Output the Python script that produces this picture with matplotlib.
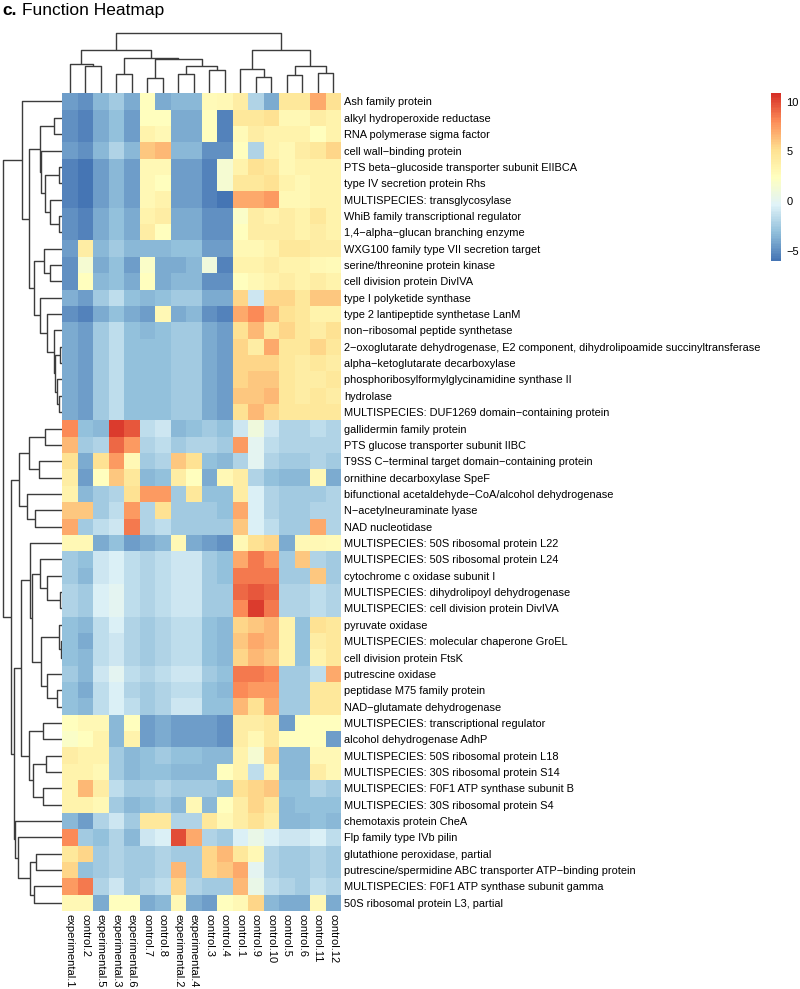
import matplotlib
matplotlib.use("Agg")
import matplotlib.pyplot as plt
import numpy as np
from matplotlib.colors import LinearSegmentedColormap

plt.rcParams['font.family'] = ['Liberation Sans', 'DejaVu Sans']

columns = ["experimental.1", "control.2", "experimental.5", "experimental.3",
           "experimental.6", "control.7", "control.8", "experimental.2",
           "experimental.4", "control.3", "control.4", "control.1", "control.9",
           "control.10", "control.5", "control.6", "control.11", "control.12"]

rows = [
    "Ash family protein",
    "alkyl hydroperoxide reductase",
    "RNA polymerase sigma factor",
    "cell wall−binding protein",
    "PTS beta−glucoside transporter subunit EIIBCA",
    "type IV secretion protein Rhs",
    "MULTISPECIES: transglycosylase",
    "WhiB family transcriptional regulator",
    "1,4−alpha−glucan branching enzyme",
    "WXG100 family type VII secretion target",
    "serine/threonine protein kinase",
    "cell division protein DivIVA",
    "type I polyketide synthase",
    "type 2 lantipeptide synthetase LanM",
    "non−ribosomal peptide synthetase",
    "2−oxoglutarate dehydrogenase, E2 component, dihydrolipoamide succinyltransferase",
    "alpha−ketoglutarate decarboxylase",
    "phosphoribosylformylglycinamidine synthase II",
    "hydrolase",
    "MULTISPECIES: DUF1269 domain−containing protein",
    "gallidermin family protein",
    "PTS glucose transporter subunit IIBC",
    "T9SS C−terminal target domain−containing protein",
    "ornithine decarboxylase SpeF",
    "bifunctional acetaldehyde−CoA/alcohol dehydrogenase",
    "N−acetylneuraminate lyase",
    "NAD nucleotidase",
    "MULTISPECIES: 50S ribosomal protein L22",
    "MULTISPECIES: 50S ribosomal protein L24",
    "cytochrome c oxidase subunit I",
    "MULTISPECIES: dihydrolipoyl dehydrogenase",
    "MULTISPECIES: cell division protein DivIVA",
    "pyruvate oxidase",
    "MULTISPECIES: molecular chaperone GroEL",
    "cell division protein FtsK",
    "putrescine oxidase",
    "peptidase M75 family protein",
    "NAD−glutamate dehydrogenase",
    "MULTISPECIES: transcriptional regulator",
    "alcohol dehydrogenase AdhP",
    "MULTISPECIES: 50S ribosomal protein L18",
    "MULTISPECIES: 30S ribosomal protein S14",
    "MULTISPECIES: F0F1 ATP synthase subunit B",
    "MULTISPECIES: 30S ribosomal protein S4",
    "chemotaxis protein CheA",
    "Flp family type IVb pilin",
    "glutathione peroxidase, partial",
    "putrescine/spermidine ABC transporter ATP−binding protein",
    "MULTISPECIES: F0F1 ATP synthase subunit gamma",
    "50S ribosomal protein L3, partial",
]

values = [
    [-4.5, -5.0, -3.5, -2.5, -4.0, 2.5, -4.0, -3.5, -3.5, 2.8, 3.0, 4.0, -2.0, -4.0, 4.5, 4.5, 7.0, 5.0],
    [-5.0, -5.5, -4.0, -3.0, -4.5, 2.5, 2.5, -4.0, -4.0, 2.5, -5.5, 4.5, 4.5, 5.0, 3.0, 3.0, 4.0, 3.5],
    [-5.0, -5.5, -4.0, -3.0, -4.5, 3.5, 3.0, -4.0, -4.0, 2.5, -5.5, 2.8, 4.0, 3.5, 3.5, 3.5, 2.5, 3.5],
    [-4.5, -5.0, -3.5, -2.0, -3.5, 6.0, 6.5, -3.5, -3.5, -5.0, -5.0, 2.5, -2.0, 3.5, 3.0, 4.0, 4.5, 5.5],
    [-5.5, -6.0, -4.5, -3.5, -4.5, 3.0, 3.0, -4.5, -4.5, -5.5, 1.5, 3.5, 5.0, 4.5, 3.0, 3.5, 3.5, 3.5],
    [-5.5, -6.0, -4.5, -3.5, -4.5, 3.0, 2.5, -4.5, -4.5, -5.5, 1.5, 4.5, 4.5, 5.0, 3.5, 3.0, 3.5, 3.5],
    [-5.5, -6.0, -4.5, -3.5, -4.5, 3.0, 3.5, -4.5, -4.5, -5.5, -6.0, 7.0, 7.0, 7.5, 3.0, 3.0, 3.5, 3.5],
    [-5.0, -5.5, -4.0, -3.0, -4.0, 3.5, 4.0, -4.0, -4.0, -5.0, -5.0, 2.0, 4.0, 3.5, 4.0, 3.5, 4.5, 3.5],
    [-5.0, -5.5, -4.0, -3.0, -4.0, 4.0, 2.5, -4.0, -4.0, -5.0, -5.0, 2.5, 4.0, 4.0, 4.0, 3.5, 4.0, 3.5],
    [-4.5, 4.0, -3.5, -2.5, -3.5, -3.5, -3.5, -3.0, -3.0, -4.5, -4.5, 3.0, 3.0, 3.5, 4.5, 4.5, 4.0, 4.0],
    [-5.0, 1.5, -4.0, -3.0, -4.5, 2.0, -4.0, -4.0, -3.5, 1.0, -5.5, 3.5, 3.5, 4.0, 3.5, 3.5, 3.0, 2.8],
    [-5.0, 2.5, -3.5, -3.0, -4.0, 2.5, -4.0, -3.5, -3.5, -5.0, -5.0, 2.5, 3.0, 3.5, 4.0, 3.5, 4.0, 3.5],
    [-3.8, -4.5, -2.5, -1.5, -3.0, -3.5, -3.0, -2.5, -2.5, -4.0, -4.0, 5.5, -1.0, 5.5, 5.5, 4.5, 6.0, 6.0],
    [-5.0, -5.5, -4.0, -3.0, -4.0, -4.5, 3.0, -4.0, -3.5, -5.0, -5.5, 7.0, 8.0, 6.5, 5.0, 4.5, 3.5, 3.5],
    [-4.0, -4.5, -2.5, -1.5, -3.0, -3.5, -3.0, -2.5, -2.5, -4.0, -4.5, 5.0, 6.5, 4.5, 5.5, 4.5, 4.0, 5.0],
    [-4.0, -4.5, -2.5, -1.5, -3.0, -3.0, -3.0, -2.5, -2.5, -4.0, -4.5, 5.5, 4.0, 7.0, 4.5, 4.5, 5.5, 4.5],
    [-4.0, -4.5, -2.5, -1.5, -3.0, -3.0, -3.0, -2.5, -2.5, -4.0, -4.5, 5.5, 5.5, 5.5, 4.5, 4.0, 4.5, 4.0],
    [-4.0, -4.5, -2.5, -1.5, -3.0, -3.0, -3.0, -2.5, -2.5, -4.0, -4.5, 5.5, 6.0, 6.0, 4.5, 4.0, 4.0, 4.5],
    [-4.0, -4.5, -2.5, -1.5, -3.0, -3.0, -3.0, -2.5, -2.5, -4.0, -4.5, 6.0, 6.0, 6.5, 4.5, 4.0, 4.5, 4.0],
    [-4.0, -4.5, -2.5, -1.5, -3.0, -3.0, -3.0, -2.5, -2.5, -4.0, -4.5, 5.0, 6.5, 5.5, 4.5, 4.5, 4.5, 4.5],
    [8.0, -3.0, -3.5, 10.5, 9.5, -1.5, -1.0, -3.5, -3.0, -2.5, -3.0, -1.0, 1.0, -1.0, -2.0, -2.0, -1.5, -2.0],
    [6.5, -2.5, -2.0, 9.0, 7.5, -2.0, -1.5, -2.5, -2.0, -2.0, -2.5, 7.5, 0.0, -1.5, -2.0, -2.0, -2.0, -2.0],
    [5.0, -4.0, 5.0, 7.5, 3.0, -2.5, -2.0, 6.0, 5.0, -3.0, -3.5, -2.0, 0.0, -2.0, -2.5, -2.5, -2.0, -2.5],
    [4.0, -4.5, 2.5, 6.0, 4.5, -3.5, -3.0, 4.0, 2.5, -4.0, 3.0, 4.0, -2.0, -3.0, -3.5, -3.5, 3.0, -4.0],
    [3.5, -3.5, -2.5, -2.0, 5.0, 7.5, 7.5, -2.5, 4.5, -3.0, -3.0, 4.0, -0.5, -2.0, -2.5, -2.5, -2.5, -2.0],
    [6.0, 6.0, -2.5, -1.5, 7.5, -2.0, 5.0, -2.5, -2.5, -2.5, -3.0, 7.0, -0.5, -2.0, -2.5, -2.5, -2.0, -2.0],
    [7.0, -2.5, -1.5, -1.0, 8.5, -2.0, -1.5, -2.5, -2.5, -2.5, -2.5, 6.0, -0.5, -1.5, -2.5, -2.5, 7.0, -2.0],
    [3.0, 3.0, -4.0, -3.0, -4.5, -4.0, -3.5, 3.0, -4.0, -4.5, -5.0, 3.0, 5.0, 5.5, -4.0, 3.0, 3.0, 2.8],
    [-2.5, -3.0, -1.0, -0.5, -1.5, -2.0, -1.5, -1.0, -1.0, -2.5, -3.0, 7.0, 8.5, 7.5, -2.5, 6.0, -2.0, -2.5],
    [-2.5, -3.5, -1.0, -0.5, -1.5, -2.0, -1.5, -1.0, -1.0, -2.5, -3.0, 8.5, 8.5, 8.5, -2.5, -2.5, 6.0, -2.5],
    [-2.0, -2.5, -0.5, 0.0, -1.5, -2.0, -1.5, -1.0, -1.0, -2.5, -2.5, 9.0, 9.5, 9.0, -2.0, -2.0, -1.5, -2.0],
    [-2.0, -2.5, -0.5, 0.0, -1.5, -2.0, -1.5, -1.0, -1.0, -2.5, -2.5, 8.0, 10.5, 8.5, -2.0, -2.0, -1.5, -2.0],
    [-3.0, -3.5, -1.5, -0.5, -2.0, -2.5, -2.0, -1.5, -1.5, -3.0, -3.5, 5.5, 6.0, 6.5, 3.5, -3.0, 5.0, 4.5],
    [-3.0, -4.0, -1.5, -1.0, -2.0, -2.5, -2.0, -1.5, -1.5, -3.0, -3.5, 6.0, 7.0, 6.5, 3.5, -3.0, 4.0, 4.5],
    [-3.0, -3.5, -1.5, -1.0, -2.0, -2.5, -2.0, -1.5, -1.5, -3.0, -3.5, 5.5, 6.5, 6.0, 3.5, -3.0, 3.5, 4.5],
    [-2.5, -3.5, -1.0, 0.0, -1.5, -2.0, -1.5, -1.0, -1.0, -2.5, -3.0, 8.5, 8.5, 8.0, -2.5, -2.5, -1.5, 7.0],
    [-3.0, -4.0, -1.5, -0.5, -2.0, -2.5, -2.0, -1.5, -1.5, -3.0, -3.5, 8.0, 7.5, 7.5, -2.5, -2.5, 4.5, 4.5],
    [-3.0, -3.5, -1.5, -0.5, -1.5, -2.5, -2.0, -1.0, -1.0, -3.0, -3.0, 6.5, 5.0, 7.0, -2.5, -2.5, 4.5, 4.5],
    [2.5, 3.0, 3.0, -3.5, 2.5, -4.5, -4.0, -4.5, -4.5, -4.5, -5.0, 4.0, 4.0, 4.5, -4.5, 2.5, 2.5, 2.5],
    [2.0, 2.5, 3.5, -3.5, 3.5, -4.5, -4.0, -4.5, -4.5, -4.5, -5.0, 4.0, 3.0, 4.5, 2.5, 2.5, 2.5, -4.5],
    [4.0, 3.5, 3.5, -2.5, -3.5, -3.0, -2.5, -3.0, -3.0, -3.5, -3.5, 3.5, 1.5, 5.5, -3.5, -3.5, 3.0, 3.0],
    [3.5, 3.5, 3.0, -2.5, -3.5, -3.0, -3.0, -3.5, -3.5, -3.5, 2.5, 3.5, -1.5, 3.5, -3.5, -3.5, 4.0, 3.0],
    [3.5, 6.5, 4.0, -1.5, -2.5, -2.5, -2.0, -2.5, -2.5, -2.5, -3.0, 5.0, 5.5, 6.0, -3.0, -3.0, -2.0, -2.5],
    [3.5, 3.5, 3.0, -2.5, -3.5, -3.0, -2.5, -3.5, 3.0, -3.5, 2.5, 4.0, 5.5, 4.5, -3.5, -3.0, -3.0, -3.0],
    [-3.5, -4.5, -2.0, -1.0, -2.5, 4.5, 4.5, -2.0, -2.0, 4.5, 3.0, 4.0, 5.0, 4.0, -3.5, -3.5, -3.0, -3.5],
    [8.0, -2.5, -3.0, -2.0, -3.5, -1.0, -0.5, 10.0, 7.0, -2.0, -2.5, -0.5, 0.5, -0.5, -1.0, -1.0, -0.5, -1.5],
    [4.5, 5.5, -2.5, -2.0, -2.5, -2.5, -2.0, -2.5, -2.5, 5.5, 6.5, 4.5, 3.0, -2.0, -2.5, -2.5, -2.0, -2.5],
    [5.5, -3.0, -2.5, -2.0, -2.5, -2.5, -2.0, 6.5, -2.5, 5.5, 6.0, 7.0, 0.0, -2.0, -2.5, -2.5, -2.0, -2.5],
    [7.5, 8.5, -2.0, -1.0, -2.5, -2.0, -1.5, 5.5, -2.0, -2.5, -2.5, 6.5, 0.5, -1.5, -2.0, -2.5, -1.5, -2.0],
    [3.0, 3.0, -4.0, 2.5, 2.5, -4.0, -3.5, 3.0, -4.0, -4.5, 2.5, 3.0, 5.5, -3.5, -4.0, -4.0, 3.0, -4.0],
]

# dendrograms as nested (left, right, height); leaves are display positions
col_tree = (
    ((0, (1, 2, 81), 88),
     ((3, 4, 59), ((5, 6, 47), ((7, 8, 57), (9, 10, 69), 83), 102), 107), 130),
    ((11, (12, 13, 50), 72), ((14, 15, 56), (16, 17, 60), 83), 131),
    180)

row_top = (0, (((1, 2, 24), (3, ((4, 5, 10), (6, (7, 8, 10), 36), 51), 64), 66),
               ((9, (10, 11, 36), 55),
                (12, (13, (14, ((15, 16, 6), (17, (18, 19, 10), 14), 21), 24), 46), 66), 83), 98), 120)
row_b1 = (((20, 21, 51), (22, 23, 68), 100), (24, (25, 26, 81), 104), 129)
row_b2 = ((27, ((28, (29, (30, 31, 6), 46), 66),
                ((32, (33, 34, 3), 8), (35, (36, 37, 14), 46), 64), 89), 96),
          ((38, 39, 58), ((40, 41, 48), (42, 43, 58), 86), 100), 124)
row_b3 = (44, (45, ((46, 47, 78), (48, 49, 83), 96), 131), 140)
row_tree = (row_top, (row_b1, (row_b2, row_b3, 143), 154), 176)

palette = ["#4575B4", "#91BFDB", "#E0F3F8", "#FFFFBF", "#FEE090", "#FC8D59", "#D73027"]
vmin, vmax = -6.04, 10.85


def tree_segments(node, segs):
    """Return (centre, height) of node; append the U-shaped link of every merge."""
    if isinstance(node, int):
        return node + 0.5, 0.0
    left, right, h = node
    lx, lh = tree_segments(left, segs)
    rx, rh = tree_segments(right, segs)
    segs.append(([lx, lx, rx, rx], [lh, h, h, rh]))
    return (lx + rx) / 2, h


W, H = 800, 989
fig = plt.figure(figsize=(W / 100, H / 100), dpi=100)


def px_axes(x0, y0, x1, y1):
    return fig.add_axes([x0 / W, 1 - y1 / H, (x1 - x0) / W, (y1 - y0) / H])


hm_x0, hm_x1, hm_y0, hm_y1 = 62, 341, 93.3, 911

cmap = LinearSegmentedColormap.from_list("rdylbu_r", palette, N=100)
ax = px_axes(hm_x0, hm_y0, hm_x1, hm_y1)
data = np.array(values)
mesh = ax.pcolormesh(np.arange(len(columns) + 1), np.arange(len(rows) + 1), data,
                     cmap=cmap, vmin=vmin, vmax=vmax)
ax.set_xlim(0, len(columns))
ax.set_ylim(len(rows), 0)
for s in ax.spines.values():
    s.set_visible(False)
ax.yaxis.tick_right()
ax.set_yticks(np.arange(len(rows)) + 0.5)
ax.set_yticklabels(rows, fontsize=7.95, color="black")
ax.set_xticks(np.arange(len(columns)) + 0.5)
ax.set_xticklabels(columns, fontsize=8.0, rotation=-90, ha="center", va="top", color="black")
ax.tick_params(length=0, pad=2.5)

line_kw = dict(color="#3c3c3c", lw=1.0, solid_capstyle="butt")

# top dendrogram
ax_top = px_axes(hm_x0, hm_y0 - 190 / 3, hm_x1, hm_y0)
segs = []
tree_segments(col_tree, segs)
for xs, ys in segs:
    ax_top.plot(xs, ys, **line_kw)
ax_top.set_xlim(0, len(columns))
ax_top.set_ylim(0, 190)
ax_top.axis("off")

# left dendrogram
ax_left = px_axes(0, hm_y0, hm_x0, hm_y1)
segs = []
tree_segments(row_tree, segs)
for ys, xs in segs:
    ax_left.plot(xs, ys, **line_kw)
ax_left.set_xlim(186, 0)
ax_left.set_ylim(len(rows), 0)
ax_left.axis("off")

# colour bar
cax = px_axes(770.7, 93.3, 781, 261)
cb = fig.colorbar(mesh, cax=cax, ticks=[-5, 0, 5, 10])
cb.outline.set_visible(False)
cax.tick_params(length=0, pad=4, labelsize=8)

# title
fig.text(2 / W, 1 - 15 / H, "c.", fontsize=12.5, fontweight="bold", ha="left", va="baseline")
fig.text(22 / W, 1 - 15 / H, "Function Heatmap", fontsize=12.5, ha="left", va="baseline")

fig.savefig("out.png", dpi=100)
